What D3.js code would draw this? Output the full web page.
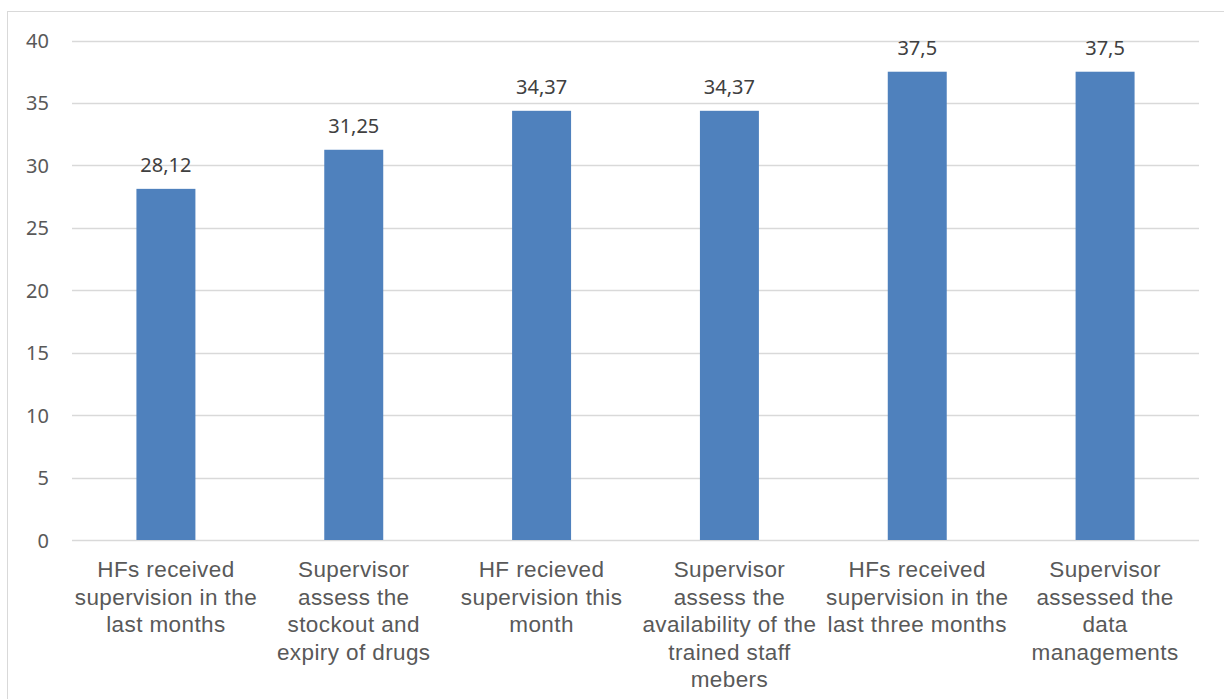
<!DOCTYPE html>
<html>
<head>
<meta charset="utf-8">
<script src="https://cdn.jsdelivr.net/npm/d3@7"></script>
<style>
  html, body { margin: 0; padding: 0; background: #fff; }
  svg { display: block; }
</style>
</head>
<body>
<svg id="chart" width="1224" height="699"></svg>
<script>
// Supervision indicators (%)
const categories = [
  ["HFs received", "supervision in the", "last months"],
  ["Supervisor", "assess the", "stockout and", "expiry of drugs"],
  ["HF recieved", "supervision this", "month"],
  ["Supervisor", "assess the", "availability of the", "trained staff", "mebers"],
  ["HFs received", "supervision in the", "last three months"],
  ["Supervisor", "assessed the", "data", "managements"]
];
const values = [28.12, 31.25, 34.37, 34.37, 37.5, 37.5];
const valueLabels = ["28,12", "31,25", "34,37", "34,37", "37,5", "37,5"];
const yTicks = [0, 5, 10, 15, 20, 25, 30, 35, 40];

const svg = d3.select("#chart");
const W = 1224, H = 699;
const margin = { left: 72, right: 25, top: 40.5, bottom: 159 };
const textColor = "#595959";
const numFont = "'Noto Sans', 'Open Sans', sans-serif";
const catFont = "'Liberation Sans', Arial, sans-serif";

// chart frame
svg.append("rect")
  .attr("x", 7.5).attr("y", 11.5)
  .attr("width", 1230).attr("height", 700)
  .attr("fill", "#fff").attr("stroke", "#d9d9d9").attr("stroke-width", 1);

const x = d3.scaleBand()
  .domain(d3.range(categories.length))
  .range([margin.left, W - margin.right])
  .padding(0);

const y = d3.scaleLinear()
  .domain([0, 40])
  .range([H - margin.bottom, margin.top]);

const barW = x.bandwidth() * 0.314;

// gridlines
svg.append("g")
  .selectAll("line")
  .data(yTicks)
  .join("line")
  .attr("x1", margin.left).attr("x2", W - margin.right)
  .attr("y1", d => Math.round(y(d)) + 0.5).attr("y2", d => Math.round(y(d)) + 0.5)
  .attr("stroke", "#d9d9d9").attr("stroke-width", 1.5);

// y-axis tick labels
const yAxis = d3.axisLeft(y).tickValues(yTicks).tickSize(0).tickPadding(0);
const gy = svg.append("g").attr("transform", `translate(49,0)`).call(yAxis);
gy.select(".domain").remove();
gy.selectAll("text")
  .attr("fill", textColor)
  .attr("font-family", numFont)
  .attr("font-size", 20)
  .attr("dy", "0.35em");

// bars
svg.append("g")
  .selectAll("rect")
  .data(values)
  .join("rect")
  .attr("x", (d, i) => x(i) + (x.bandwidth() - barW) / 2)
  .attr("width", barW)
  .attr("y", d => y(d))
  .attr("height", d => y(0) - y(d))
  .attr("fill", "#4f81bd");

// value labels
svg.append("g")
  .selectAll("text")
  .data(values)
  .join("text")
  .attr("x", (d, i) => x(i) + x.bandwidth() / 2)
  .attr("y", d => y(d) - 16.5)
  .attr("text-anchor", "middle")
  .attr("fill", "#404040")
  .attr("font-family", numFont)
  .attr("font-size", 20)
  .text((d, i) => valueLabels[i]);

// category labels
const cat = svg.append("g")
  .selectAll("text")
  .data(categories)
  .join("text")
  .attr("x", (d, i) => x(i) + x.bandwidth() / 2)
  .attr("y", 577)
  .attr("text-anchor", "middle")
  .attr("fill", textColor)
  .attr("font-family", catFont)
  .attr("font-size", 22.5)
  .attr("letter-spacing", "0.4px");

cat.selectAll("tspan")
  .data(d => d)
  .join("tspan")
  .attr("x", function() { return this.parentNode.getAttribute("x"); })
  .attr("dy", (d, i) => i === 0 ? 0 : 27.6)
  .text(d => d);
</script>
</body>
</html>
